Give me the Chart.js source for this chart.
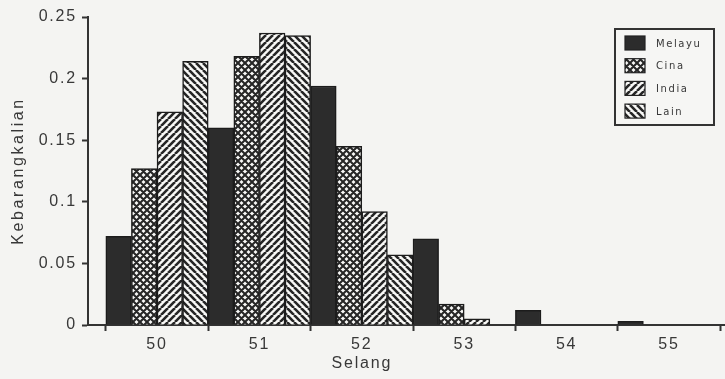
<!DOCTYPE html>
<html>
<head>
<meta charset="utf-8">
<script src="https://cdn.jsdelivr.net/npm/chart.js@4.4.1/dist/chart.umd.min.js"></script>
<style>
  html, body { margin: 0; padding: 0; background: #f4f4f2; }
  #wrap { width: 725px; height: 379px; }
</style>
</head>
<body>
<div id="wrap"><canvas id="myChart" width="725" height="379"></canvas></div>
<script>
// data
const selang = [50, 51, 52, 53, 54, 55];
const melayu = [0.072, 0.160, 0.194, 0.070, 0.012, 0.003];
const cina   = [0.127, 0.218, 0.145, 0.017, 0, 0];
const india  = [0.173, 0.237, 0.092, 0.005, 0, 0];
const lain   = [0.214, 0.235, 0.057, 0, 0, 0];
const yTicks = [0, 0.05, 0.1, 0.15, 0.2, 0.25];
const xTicks = [50, 51, 52, 53, 54, 55];
const seriesNames = ['Melayu', 'Cina', 'India', 'Lain'];

const ink = '#262626';
const textCol = '#383838';

// hatch fills
const makePattern = (kind) => {
  const s = 7;
  const c = document.createElement('canvas');
  c.width = s; c.height = s;
  const g = c.getContext('2d');
  g.fillStyle = '#f8f8f6';
  g.fillRect(0, 0, s, s);
  g.strokeStyle = ink;
  g.lineWidth = kind === 'cross' ? 2.1 : 2.6;
  g.beginPath();
  for (const k of [-s, 0, s]) {
    if (kind === 'up' || kind === 'cross') { g.moveTo(k, s); g.lineTo(k + s, 0); }
    if (kind === 'down' || kind === 'cross') { g.moveTo(k, 0); g.lineTo(k + s, s); }
  }
  g.stroke();
  return g.createPattern(c, 'repeat');
};

const fills = ['#2c2c2c', makePattern('cross'), makePattern('up'), makePattern('down')];

const ds = (i, vals) => ({
  label: seriesNames[i],
  data: selang.map((x, j) => ({ x: x, y: vals[j] })),
  backgroundColor: fills[i],
  borderColor: '#1c1c1c',
  borderWidth: 1.5,
  categoryPercentage: 1,
  barPercentage: 1
});

// letter spacing like the scanned lettering
const spacing = {
  id: 'spacing',
  beforeUpdate(c) { c.ctx.letterSpacing = '1.8px'; },
  beforeDraw(c) { c.ctx.letterSpacing = '1.8px'; }
};

// axis titles + boxed legend inside the plot
const extras = {
  id: 'extras',
  afterDraw(c) {
    const { ctx, chartArea } = c;
    ctx.save();
    ctx.fillStyle = textCol;
    ctx.textAlign = 'center';
    ctx.textBaseline = 'middle';

    ctx.font = '16px "Liberation Sans", Arial, sans-serif';
    ctx.letterSpacing = '1.8px';
    ctx.fillText('Selang', chartArea.left + 0.43 * (chartArea.right - chartArea.left), chartArea.bottom + 39);

    ctx.save();
    ctx.translate(19, (chartArea.top + chartArea.bottom) / 2);
    ctx.rotate(-Math.PI / 2);
    ctx.font = '16px "Liberation Sans", Arial, sans-serif';
    ctx.letterSpacing = '2.6px';
    ctx.fillText('Kebarangkalian', 0, 0);
    ctx.restore();

    // legend
    const bx = chartArea.right - 110, by = chartArea.top + 12, bw = 99, bh = 96;
    ctx.fillStyle = '#f6f6f4';
    ctx.fillRect(bx, by, bw, bh);
    ctx.strokeStyle = '#333';
    ctx.lineWidth = 2;
    ctx.strokeRect(bx, by, bw, bh);
    ctx.font = '10px "DejaVu Sans", sans-serif';
    ctx.letterSpacing = '1.6px';
    ctx.textAlign = 'left';
    c.data.datasets.forEach((d, i) => {
      const cy = by + 14 + i * 22.7;
      ctx.fillStyle = d.backgroundColor;
      ctx.fillRect(bx + 10, cy - 7, 20, 14);
      ctx.strokeStyle = '#222';
      ctx.lineWidth = 1.2;
      ctx.strokeRect(bx + 10, cy - 7, 20, 14);
      ctx.fillStyle = textCol;
      ctx.fillText(d.label, bx + 41, cy + 1);
    });
    ctx.restore();
  }
};

new Chart(document.getElementById('myChart'), {
  type: 'bar',
  data: {
    datasets: [ds(0, melayu), ds(1, cina), ds(2, india), ds(3, lain)]
  },
  options: {
    responsive: false,
    animation: false,
    layout: { padding: { top: 17, right: 0, bottom: 0, left: 0 } },
    plugins: { legend: { display: false }, tooltip: { enabled: false } },
    scales: {
      x: {
        type: 'linear',
        min: 49.326,
        max: 55.547,
        offset: false,
        afterBuildTicks: (s) => { s.ticks = xTicks.map(v => ({ value: v })); },
        afterFit: (s) => { s.height = 54; },
        grid: { display: true, drawOnChartArea: false, drawTicks: true, tickLength: 6, tickWidth: 2, tickColor: '#333' },
        border: { display: true, color: '#333', width: 2 },
        ticks: {
          padding: 4,
          color: textCol,
          maxRotation: 0,
          font: { family: '"Liberation Sans", Arial, sans-serif', size: 16 },
          callback: (v) => String(v)
        }
      },
      y: {
        min: 0,
        max: 0.25,
        afterBuildTicks: (s) => { s.ticks = yTicks.map(v => ({ value: v })); },
        afterFit: (s) => { s.width = 88; },
        grid: { display: true, drawOnChartArea: false, drawTicks: true, tickLength: 6, tickWidth: 2, tickColor: '#333' },
        border: { display: true, color: '#333', width: 2 },
        ticks: {
          padding: 5,
          color: textCol,
          font: { family: '"Liberation Sans", Arial, sans-serif', size: 16 },
          callback: (v) => String(v)
        }
      }
    }
  },
  plugins: [spacing, extras]
});
</script>
</body>
</html>
